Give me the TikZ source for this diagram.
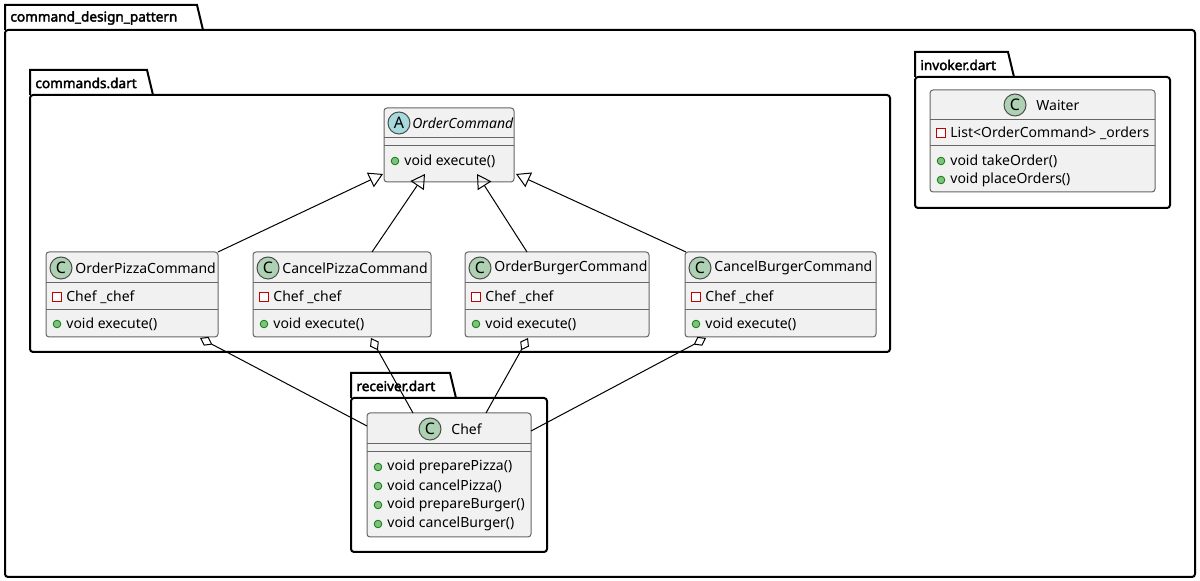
\documentclass[tikz,border=0pt]{standalone}
\usepackage{fontspec}
\setmainfont{Noto Sans}
\newfontfamily\pkgfont{Noto Sans}[FakeBold=2.5]
\usetikzlibrary{arrows.meta}
\definecolor{cbg}{RGB}{241,241,241}
\definecolor{cgreen}{RGB}{173,209,178}
\definecolor{ablue}{RGB}{166,218,220}
\definecolor{pubf}{RGB}{132,190,132}
\definecolor{pubd}{RGB}{3,128,3}
\definecolor{privd}{RGB}{193,0,0}
\tikzset{
 pkg/.style={draw,line width=1pt,fill=white,rounded corners=1.5pt},
 tab/.style={draw,line width=1pt,fill=white},
 cls/.style={draw=black!60,fill=cbg,line width=0.5pt,rounded corners=1.5pt},
 sep/.style={draw=black!60,line width=0.5pt},
 txt/.style={anchor=west,inner sep=0,font=\fontsize{7}{8}\selectfont},
 ttl/.style={anchor=west,inner sep=0,font=\fontsize{7}{8}\selectfont},
 ptxt/.style={anchor=west,inner sep=0,font=\fontsize{6.8}{8}\pkgfont},
 icon/.style={circle,draw=black!70,line width=0.5pt,minimum size=11pt,inner sep=0,font=\fontsize{8}{8}\selectfont},
 inh/.style={-{Triangle[open,length=7pt,width=8pt]},line width=0.5pt},
 agg/.style={{Diamond[open,length=7pt,width=5pt]}-,line width=0.5pt}
}
\newcommand\folder[6]{% x1 ytab y2(tab bottom) xtab x2 y3
 \draw[tab] (#1,#3) -- (#1,#2) -- (#4,#2) -- (#4+6,#3);
 \draw[pkg] (#1,#3) rectangle (#5,#6);}
\newcommand\priv[2]{\draw[privd,line width=0.5pt,fill=white] (#1,#2) ++(-2.2pt,-2.2pt) rectangle ++(4.4pt,4.4pt);}
\newcommand\pub[2]{\draw[pubd,fill=pubf,line width=0.4pt] (#1,#2) circle (1.9pt);}
\begin{document}
\begin{tikzpicture}[x=0.5pt,y=-0.5pt]
\useasboundingbox (0,0) rectangle (1200,581);
% packages
\folder{5}{5}{30}{197}{1195}{577}
\node[ptxt] (p0) at (10,18) {command\_design\_pattern};
\folder{30}{70}{95}{147}{890}{352}
\node[ptxt] (p1) at (35,83) {commands.dart};
\folder{915}{52}{77}{1008}{1170}{208}
\node[ptxt] (p2) at (920,65) {invoker.dart};
\folder{351}{373}{398}{450}{547}{552}
\node[ptxt] (p3) at (356,386) {receiver.dart};

% OrderCommand
\draw[cls] (384,108) rectangle (514,182);
\draw[sep] (384,138) -- (514,138); \draw[sep] (384,146) -- (514,146);
\node[icon,fill=ablue] (ia) at (399,123) {A};
\node[ttl,font=\fontsize{7}{8}\selectfont\itshape] (oc) at (412,123) {OrderCommand};
\pub{395}{161}\node[txt] at (404,161) {void execute()};
\coordinate (ocb1) at (383,174); \coordinate (ocb2) at (425,174);
\coordinate (ocb3) at (477,174); \coordinate (ocb4) at (516,174);

% Waiter
\draw[cls] (930,90) rectangle (1155,192);
\draw[sep] (930,120) -- (1155,120); \draw[sep] (930,146) -- (1155,146);
\node[icon,fill=cgreen] (iw) at (1015,105) {C};
\node[ttl] (wt) at (1036,105) {Waiter};
\priv{941}{133}\node[txt] at (950,133) {List<OrderCommand> \_orders};
\pub{941}{161}\node[txt] at (950,161) {void takeOrder()};
\pub{941}{180}\node[txt] at (950,180) {void placeOrders()};

% command classes
\newcommand\cmdclass[4]{% x1 x2 title name
 \draw[cls] (#1,252) rectangle (#2,337);
 \draw[sep] (#1,283) -- (#2,283); \draw[sep] (#1,310) -- (#2,310);
 \node[icon,fill=cgreen] at (#1+15,268) {C};
 \node[ttl] (#4) at (#1+29,268) {#3};
 \priv{#1+11}{297}\node[txt] at (#1+20,297) {Chef \_chef};
 \pub{#1+11}{324}\node[txt] at (#1+20,324) {void execute()};}
\cmdclass{46}{218}{OrderPizzaCommand}{opc}
\cmdclass{253}{431}{CancelPizzaCommand}{cpc}
\cmdclass{465}{649}{OrderBurgerCommand}{obc}
\cmdclass{685}{876}{CancelBurgerCommand}{cbc}
\coordinate (opct) at (218,252); \coordinate (cpct) at (372,252);
\coordinate (obct) at (527,252); \coordinate (cbct) at (686,252);
\coordinate (opcb) at (200,338); \coordinate (cpcb) at (371,338);
\coordinate (obcb) at (528,338); \coordinate (cbcb) at (706,338);

% Chef
\draw[cls] (367,413) rectangle (531,537);
\draw[sep] (367,444) -- (531,444); \draw[sep] (367,452) -- (531,452);
\node[icon,fill=cgreen] (ic) at (430,429) {C};
\node[ttl] (chef) at (451,429) {Chef};
\pub{378}{467}\node[txt] at (387,467) {void preparePizza()};
\pub{378}{486}\node[txt] at (387,486) {void cancelPizza()};
\pub{378}{505}\node[txt] at (387,505) {void prepareBurger()};
\pub{378}{524}\node[txt] at (387,524) {void cancelBurger()};
\coordinate (ch1) at (367,426); \coordinate (ch2) at (413,413);
\coordinate (ch3) at (486,413); \coordinate (ch4) at (531,431);

% edges
\draw[inh] (opct) -- (ocb1);
\draw[inh] (cpct) -- (ocb2);
\draw[inh] (obct) -- (ocb3);
\draw[inh] (cbct) -- (ocb4);
\draw[agg] (opcb) -- (ch1);
\draw[agg] (cpcb) -- (ch2);
\draw[agg] (obcb) -- (ch3);
\draw[agg] (cbcb) -- (ch4);
\end{tikzpicture}
\end{document}
